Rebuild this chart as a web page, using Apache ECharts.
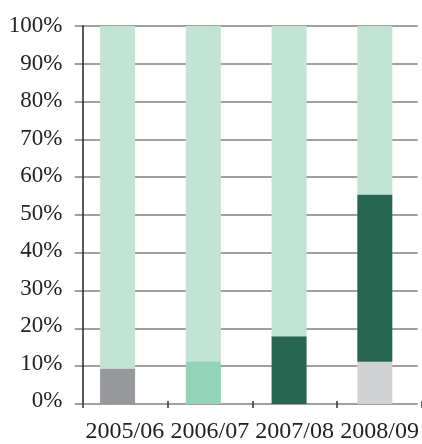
<!DOCTYPE html>
<html>
<head>
    <meta charset="UTF-8">
    <title>Chart</title>
    <script src="https://cdn.jsdelivr.net/npm/echarts@6/dist/echarts.min.js"></script>
    <style>
        html, body { margin: 0; padding: 0; background: #fff; }
        #main { width: 422px; height: 444px; }
    </style>
</head>
<body>
<div id="main"></div>
<script type="text/javascript">
    var years = ['2005/06', '2006/07', '2007/08', '2008/09'];
    var greyPart = [9.4, 0, 0, 0];
    var mintPart = [0, 11.3, 0, 0];
    var lightGreyPart = [0, 0, 0, 11.2];
    var darkPart = [0, 0, 17.9, 44.2];
    var restPart = [90.6, 88.7, 82.1, 44.6];
    var yTicks = [0, 10, 20, 30, 40, 50, 60, 70, 80, 90, 100];

    var font = 'Liberation Serif';
    var myChart = echarts.init(document.getElementById('main'));

    function part(name, data, color) {
        return {
            name: name,
            type: 'bar',
            stack: 'all',
            xAxisIndex: 0,
            yAxisIndex: 0,
            barWidth: 35,
            data: data,
            itemStyle: { color: color },
            silent: true
        };
    }

    option = {
        animation: false,
        grid: [
            { left: 74.7, top: 26, width: 343, bottom: 40 },
            { left: 82.5, top: 26, width: 342, bottom: 40 }
        ],
        xAxis: [
            { type: 'category', gridIndex: 0, data: years, show: false },
            {
                type: 'category', gridIndex: 1, data: years,
                axisLine: { show: false },
                axisTick: { show: true, interval: 0, length: 7, lineStyle: { color: '#333', width: 1.5 } },
                axisLabel: { interval: 0, hideOverlap: false, fontFamily: font, fontSize: 24, color: '#222', margin: 19 }
            }
        ],
        yAxis: [
            {
                type: 'value', gridIndex: 0, min: 0, max: 100, interval: 10,
                axisLine: { show: false }, axisTick: { show: false }, axisLabel: { show: false },
                splitLine: { show: true, lineStyle: { color: '#808080', width: 1.5 } }
            },
            {
                type: 'value', gridIndex: 1, min: 0, max: 100, interval: 10,
                axisLine: { show: true, lineStyle: { color: '#222', width: 1.5 } },
                axisTick: { show: false },
                splitLine: { show: false },
                axisLabel: {
                    fontFamily: font, fontSize: 23, color: '#222', margin: 20,
                    formatter: function (v) { return yTicks.indexOf(v) >= 0 ? v + '%' : ''; }
                }
            }
        ],
        series: [
            part('a', greyPart, '#97989c'),
            part('b', mintPart, '#93d3b8'),
            part('c', lightGreyPart, '#d1d2d4'),
            part('d', darkPart, '#276650'),
            part('e', restPart, '#c1e4d4')
        ]
    };
    myChart.setOption(option);
</script>
</body>
</html>
